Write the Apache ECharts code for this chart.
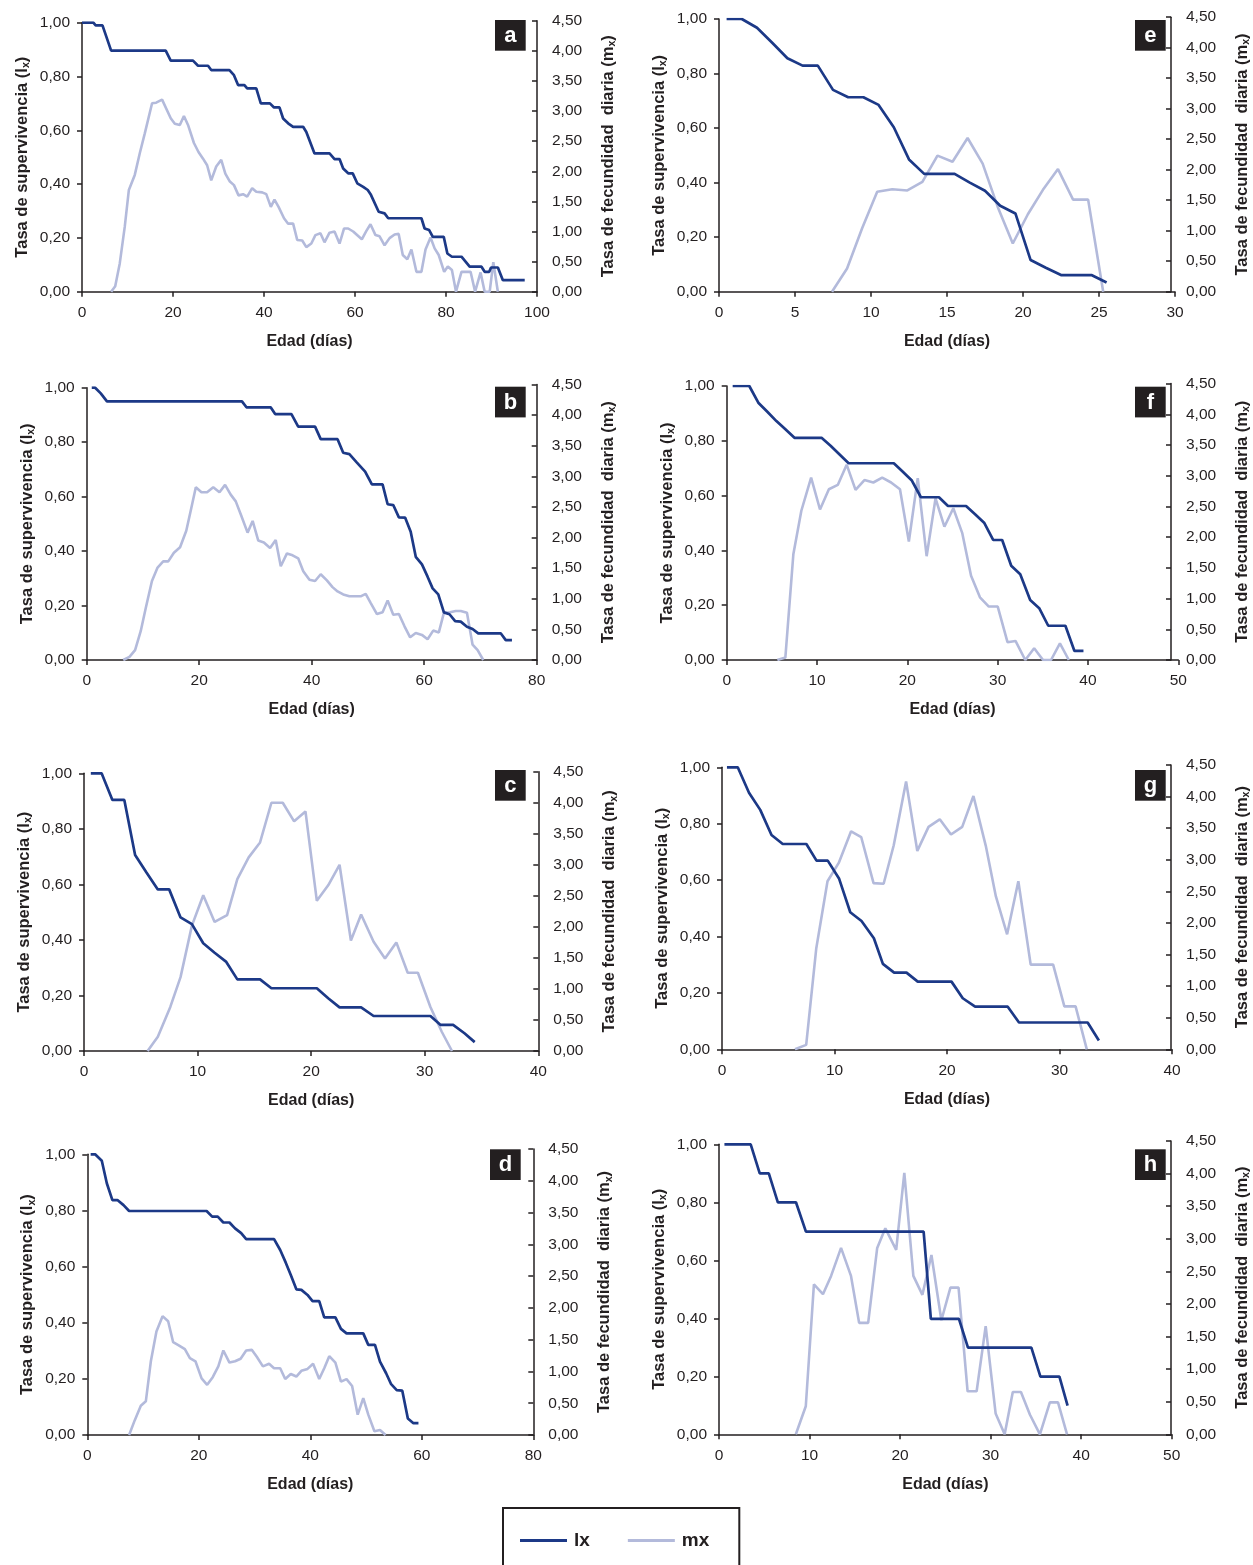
<!DOCTYPE html>
<html><head><meta charset="utf-8">
<script src="https://cdn.jsdelivr.net/npm/echarts@6/dist/echarts.min.js"></script>
<style>html,body{margin:0;padding:0;background:#fff}#c{width:1253px;height:1565px}</style>
</head><body><div id="c"></div>
<script>
// ---------- DATA (day, value) ----------
const lxA=[[0,1.0],[2.5,1.0],[3,0.99],[4.5,0.99],[6.4,0.896],[18.4,0.896],[19.5,0.859],[24.4,0.859],[25.5,0.84],[27.7,0.84],[28.4,0.824],[32.4,0.824],[33.4,0.805],[34.3,0.768],[35.7,0.768],[36.3,0.756],[38.3,0.756],[39.3,0.70],[41.3,0.70],[42.2,0.685],[43.4,0.685],[44.2,0.644],[45.3,0.626],[46.4,0.613],[48.6,0.613],[49.3,0.594],[51.1,0.514],[54.4,0.514],[55.5,0.493],[56.6,0.493],[57.4,0.458],[58.5,0.44],[59.5,0.44],[60.5,0.403],[61.8,0.39],[62.8,0.378],[63.5,0.36],[65.2,0.297],[66.5,0.291],[67.3,0.273],[74.6,0.273],[75.3,0.235],[76.3,0.229],[77.1,0.204],[79.5,0.204],[80.3,0.142],[81.3,0.13],[83.4,0.13],[85.2,0.093],[87.8,0.093],[88.5,0.074],[89.5,0.074],[89.9,0.09],[91.4,0.09],[92.5,0.043],[97.3,0.043]];
const mxA=[[6.4,0],[7.3,0.09],[8.3,0.47],[9.4,1.08],[10.3,1.69],[11.6,1.94],[12.7,2.30],[13.8,2.63],[15.4,3.13],[16.3,3.14],[17.6,3.19],[19.5,2.88],[20.4,2.79],[21.5,2.77],[22.4,2.92],[23.3,2.77],[24.6,2.47],[25.6,2.32],[26.6,2.21],[27.5,2.10],[28.4,1.85],[29.5,2.08],[30.6,2.19],[31.5,1.96],[32.5,1.83],[33.4,1.77],[34.4,1.60],[35.4,1.62],[36.3,1.58],[37.4,1.72],[38.3,1.66],[39.6,1.65],[40.5,1.62],[41.5,1.41],[42.3,1.53],[43.2,1.41],[44.4,1.22],[45.3,1.13],[46.4,1.13],[47.3,0.86],[48.4,0.85],[49.3,0.74],[50.4,0.80],[51.3,0.94],[52.4,0.97],[53.3,0.82],[54.4,0.98],[55.5,1.00],[56.6,0.80],[57.6,1.05],[58.5,1.05],[59.6,1.00],[61.5,0.87],[62.5,1.01],[63.4,1.12],[64.5,0.94],[65.4,0.92],[66.5,0.77],[67.6,0.89],[68.7,0.95],[69.6,0.96],[70.5,0.61],[71.5,0.54],[72.4,0.70],[73.5,0.33],[74.6,0.33],[75.5,0.70],[76.6,0.90],[77.5,0.72],[78.4,0.61],[79.6,0.33],[80.4,0.42],[81.3,0.36],[82.2,0],[83.4,0.33],[85.4,0.33],[86.4,0],[87.6,0.32],[88.5,0],[89.6,0],[90.4,0.49],[91.4,0]];

const lxE=[[0.5,1.0],[1.5,1.0],[2.5,0.968],[3.5,0.913],[4.5,0.856],[5.5,0.829],[6.5,0.829],[7.5,0.74],[8.5,0.713],[9.5,0.713],[10.5,0.685],[11.5,0.603],[12.5,0.485],[13.5,0.432],[14.5,0.432],[15.5,0.432],[16.5,0.40],[17.5,0.37],[18.5,0.315],[19.5,0.287],[20.5,0.116],[21.5,0.088],[22.5,0.061],[23.5,0.061],[24.5,0.061],[25.5,0.034]];
const mxE=[[7.5,0],[8.5,0.38],[9.5,1.04],[10.5,1.64],[11.5,1.68],[12.5,1.66],[13.5,1.80],[14.5,2.23],[15.5,2.13],[16.5,2.52],[17.5,2.10],[18.5,1.39],[19.5,0.79],[20.5,1.27],[21.5,1.67],[22.5,2.01],[23.5,1.51],[24.5,1.51],[25.5,0]];

const lxB=[[0.9,1.0],[1.5,1.0],[2.5,0.979],[3.6,0.95],[27.6,0.95],[28.4,0.928],[32.7,0.928],[33.5,0.903],[36.4,0.903],[37.6,0.857],[40.6,0.857],[41.6,0.811],[44.6,0.811],[45.6,0.761],[46.7,0.756],[48,0.726],[49.5,0.692],[50.7,0.645],[52.6,0.645],[53.5,0.572],[54.5,0.569],[55.5,0.524],[56.6,0.523],[57.6,0.471],[58.5,0.379],[59.6,0.351],[60.6,0.306],[61.5,0.263],[62.5,0.241],[63.5,0.175],[64.5,0.168],[65.5,0.143],[66.5,0.141],[67.6,0.122],[68.6,0.114],[69.6,0.098],[73.6,0.098],[74.5,0.073],[75.6,0.073]];
const mxB=[[6.5,0],[7.6,0.05],[8.6,0.16],[9.6,0.47],[10.5,0.85],[11.6,1.29],[12.6,1.51],[13.6,1.61],[14.5,1.61],[15.5,1.75],[16.6,1.84],[17.7,2.11],[18.5,2.44],[19.4,2.82],[20.4,2.74],[21.4,2.74],[22.5,2.82],[23.6,2.74],[24.6,2.86],[25.6,2.70],[26.5,2.59],[27.5,2.35],[28.6,2.08],[29.5,2.27],[30.5,1.95],[31.5,1.92],[32.6,1.83],[33.6,1.96],[34.5,1.53],[35.6,1.74],[36.6,1.71],[37.6,1.66],[38.5,1.45],[39.6,1.31],[40.6,1.29],[41.6,1.40],[42.7,1.30],[43.7,1.19],[44.6,1.12],[45.6,1.07],[46.7,1.04],[47.7,1.04],[48.7,1.04],[49.6,1.08],[50.5,0.93],[51.6,0.75],[52.6,0.78],[53.5,0.97],[54.5,0.74],[55.5,0.75],[56.5,0.55],[57.5,0.37],[58.5,0.44],[59.6,0.41],[60.6,0.34],[61.6,0.48],[62.6,0.45],[63.5,0.77],[64.6,0.78],[65.6,0.80],[66.5,0.80],[67.6,0.77],[68.6,0.25],[69.5,0.16],[70.5,0]];

const lxF=[[0.66,1.0],[2.5,1.0],[3.5,0.939],[4.5,0.906],[5.5,0.872],[6.5,0.842],[7.5,0.811],[10.5,0.811],[11.5,0.782],[12.5,0.75],[13.5,0.718],[18.5,0.718],[19.5,0.687],[20.5,0.655],[21.5,0.594],[23.5,0.594],[24.5,0.562],[26.5,0.562],[27.5,0.532],[28.5,0.501],[29.5,0.438],[30.5,0.438],[31.5,0.344],[32.5,0.313],[33.6,0.219],[34.6,0.189],[35.6,0.125],[37.5,0.125],[38.5,0.033],[39.5,0.033]];
const mxF=[[5.7,0],[6.6,0.04],[7.5,1.72],[8.4,2.43],[9.5,2.97],[10.5,2.45],[11.5,2.78],[12.5,2.85],[13.5,3.18],[14.5,2.77],[15.5,2.93],[16.5,2.89],[17.5,2.97],[18.5,2.89],[19.5,2.78],[20.5,1.93],[21.5,2.96],[22.5,1.69],[23.5,2.63],[24.5,2.17],[25.5,2.47],[26.5,2.07],[27.5,1.37],[28.5,1.02],[29.5,0.87],[30.5,0.87],[31.6,0.29],[32.5,0.31],[33.6,0],[34.6,0.19],[35.6,0],[36.5,0],[37.5,0.27],[38.5,0]];

const lxC=[[0.6,1.0],[1.55,1.0],[2.5,0.904],[3.55,0.904],[4.5,0.706],[5.5,0.643],[6.5,0.582],[7.5,0.582],[8.5,0.481],[9.5,0.457],[10.5,0.388],[11.5,0.354],[12.5,0.322],[13.5,0.258],[15.5,0.258],[16.5,0.226],[20.5,0.226],[21.5,0.19],[22.5,0.157],[24.4,0.157],[25.5,0.126],[30.5,0.126],[31.4,0.094],[32.5,0.094],[33.5,0.064],[34.4,0.032]];
const mxC=[[5.6,0],[6.5,0.23],[7.6,0.71],[8.5,1.19],[9.5,2.02],[10.5,2.51],[11.5,2.08],[12.6,2.19],[13.5,2.77],[14.5,3.12],[15.5,3.36],[16.5,4.0],[17.5,4.0],[18.5,3.70],[19.5,3.86],[20.5,2.42],[21.5,2.67],[22.5,3.0],[23.5,1.78],[24.4,2.20],[25.5,1.76],[26.5,1.49],[27.5,1.75],[28.5,1.26],[29.4,1.26],[30.5,0.71],[31.5,0.31],[32.4,0]];

const lxG=[[0.44,1.0],[1.4,1.0],[2.4,0.91],[3.4,0.849],[4.4,0.76],[5.4,0.728],[7.5,0.728],[8.4,0.669],[9.4,0.669],[10.4,0.606],[11.4,0.486],[12.4,0.455],[13.5,0.394],[14.3,0.303],[15.3,0.272],[16.4,0.272],[17.4,0.24],[20.4,0.24],[21.4,0.181],[22.5,0.151],[25.4,0.151],[26.4,0.095],[32.5,0.095],[33.5,0.031]];
const mxG=[[6.5,0],[7.5,0.07],[8.4,1.60],[9.4,2.66],[10.4,2.95],[11.5,3.45],[12.4,3.36],[13.5,2.63],[14.4,2.62],[15.3,3.23],[16.4,4.24],[17.4,3.14],[18.4,3.52],[19.4,3.64],[20.4,3.40],[21.4,3.52],[22.4,4.01],[23.5,3.22],[24.4,2.42],[25.4,1.82],[26.4,2.66],[27.5,1.34],[28.4,1.34],[29.5,1.34],[30.5,0.68],[31.5,0.68],[32.5,0]];

const lxD=[[0.6,1.0],[1.4,1.0],[2.6,0.977],[3.5,0.897],[4.5,0.837],[5.4,0.837],[6.5,0.819],[7.5,0.798],[21.4,0.798],[22.4,0.778],[23.4,0.778],[24.4,0.757],[25.5,0.757],[26.5,0.736],[27.6,0.719],[28.5,0.698],[33.5,0.698],[34.6,0.659],[35.6,0.614],[36.5,0.57],[37.5,0.519],[38.4,0.517],[39.5,0.499],[40.4,0.477],[41.6,0.477],[42.5,0.419],[44.5,0.419],[45.5,0.378],[46.5,0.362],[49.5,0.362],[50.4,0.321],[51.6,0.321],[52.5,0.261],[53.6,0.22],[54.5,0.181],[55.5,0.16],[56.5,0.158],[57.5,0.059],[58.5,0.042],[59.4,0.042]];
const mxD=[[7.5,0],[8.5,0.23],[9.6,0.46],[10.5,0.53],[11.4,1.16],[12.4,1.63],[13.5,1.87],[14.5,1.79],[15.4,1.46],[16.4,1.41],[17.5,1.35],[18.4,1.21],[19.4,1.16],[20.5,0.89],[21.5,0.79],[22.5,0.91],[23.5,1.08],[24.4,1.33],[25.5,1.14],[26.5,1.16],[27.5,1.20],[28.5,1.33],[29.5,1.34],[30.4,1.23],[31.5,1.08],[32.6,1.12],[33.5,1.05],[34.6,1.05],[35.5,0.88],[36.5,0.96],[37.5,0.92],[38.4,1.01],[39.5,1.04],[40.5,1.12],[41.6,0.88],[42.5,1.05],[43.4,1.24],[44.5,1.14],[45.5,0.84],[46.5,0.88],[47.5,0.77],[48.5,0.32],[49.5,0.58],[50.4,0.32],[51.5,0.06],[52.5,0.08],[53.5,0]];

const lxH=[[0.6,1.0],[3.5,1.0],[4.5,0.9],[5.5,0.9],[6.5,0.8],[8.5,0.8],[9.6,0.699],[22.6,0.699],[23.4,0.398],[26.5,0.398],[27.5,0.299],[34.5,0.299],[35.5,0.199],[37.6,0.199],[38.5,0.099]];
const mxH=[[8.5,0],[9.6,0.43],[10.5,2.30],[11.5,2.15],[12.4,2.43],[13.5,2.86],[14.6,2.43],[15.5,1.71],[16.5,1.71],[17.5,2.86],[18.4,3.16],[19.6,2.83],[20.5,4.01],[21.5,2.43],[22.5,2.14],[23.5,2.75],[24.6,1.75],[25.6,2.25],[26.5,2.25],[27.5,0.66],[28.5,0.66],[29.5,1.66],[30.6,0.32],[31.6,0],[32.5,0.65],[33.4,0.65],[34.4,0.30],[35.5,0],[36.6,0.49],[37.5,0.49],[38.5,0]];

const panelLetters=['a','e','b','f','c','g','d','h'];
const panelLx=[lxA,lxE,lxB,lxF,lxC,lxG,lxD,lxH];
const panelMx=[mxA,mxE,mxB,mxF,mxC,mxG,mxD,mxH];
const xMaxes=[100,30,80,50,40,40,80,50];
const xIntervals=[20,5,20,10,10,10,20,10];
const lxTicks={min:0,max:1,interval:0.2};
const mxTicks={min:0,max:4.5,interval:0.5};
const xName='Edad (días)';
const lxName='Tasa de supervivencia (l{s|x})';
const mxName='Tasa de fecundidad  diaria (m{s|x})';

// ---------- LAYOUT (pixels) ----------
const layout=[
 {x0:82,  x1:537,   top:22.7,  bottom:291.7, topR:20.8,  badge:[495,20]},
 {x0:719, x1:1175,  top:19,    bottom:291.7, topR:17.2,  badge:[1135,20]},
 {x0:86.7,x1:536.7, top:387.7, bottom:660,   topR:384.4, badge:[495,386.7]},
 {x0:726.7,x1:1178.3,top:386,  bottom:660,   topR:383.6, badge:[1135,386.7]},
 {x0:84,  x1:538.3, top:773.3, bottom:1051,  topR:771.7, badge:[495,770]},
 {x0:722, x1:1172,  top:767.3, bottom:1049.3,topR:765,   badge:[1135,770]},
 {x0:87.3,x1:533.3, top:1154.3,bottom:1435,  topR:1149,  badge:[490,1149.3]},
 {x0:719, x1:1171.7,top:1144.3,bottom:1434.3,topR:1141,  badge:[1135,1149.3]}
];
const LX_COLOR='#1c3987', MX_COLOR='#b3badb', AX='#231f20', TXT='#231f20';
const FONT='"Liberation Sans", Arial, sans-serif';
const fmt2=v=>v.toFixed(2).replace('.',',');

const grids=[],xAxes=[],yAxes=[],series=[],graphics=[];
const mkNameStyle=()=>({fontFamily:FONT,fontWeight:'bold',fontSize:16.5,color:TXT,
  rich:{s:{fontFamily:FONT,fontWeight:'bold',fontSize:10.5,color:TXT,padding:[8,0,0,0]}}});
const TICKFONT=15.5;
layout.forEach((L,i)=>{
  const w=L.x1-L.x0;
  grids.push({left:L.x0,top:L.top,width:w,height:L.bottom-L.top});
  grids.push({left:L.x0,top:L.topR,width:w,height:L.bottom-L.topR});
  xAxes.push({type:'value',gridIndex:2*i,min:0,max:xMaxes[i],interval:xIntervals[i],
    name:xName,nameLocation:'middle',nameGap:42,
    nameTextStyle:{fontFamily:FONT,fontWeight:'bold',fontSize:16,color:TXT},
    axisLine:{show:true,onZero:false,lineStyle:{color:AX,width:1.5}},
    axisTick:{show:true,length:5,lineStyle:{color:AX,width:1.5}},
    axisLabel:{fontFamily:FONT,fontSize:TICKFONT,color:TXT,margin:13},
    splitLine:{show:false}});
  xAxes.push({type:'value',gridIndex:2*i+1,min:0,max:xMaxes[i],show:false,
    axisLine:{onZero:false}});
  yAxes.push({type:'value',gridIndex:2*i,position:'left',...lxTicks,
    name:lxName,nameLocation:'middle',nameGap:50,
    nameTextStyle:mkNameStyle(),
    axisLine:{show:true,onZero:false,lineStyle:{color:AX,width:1.5}},
    axisTick:{show:true,length:5,lineStyle:{color:AX,width:1.5}},
    axisLabel:{fontFamily:FONT,fontSize:TICKFONT,color:TXT,margin:12,formatter:fmt2},
    splitLine:{show:false}});
  yAxes.push({type:'value',gridIndex:2*i+1,position:'right',...mxTicks,
    name:mxName,nameLocation:'middle',nameGap:62,nameRotate:90,
    nameTextStyle:mkNameStyle(),
    axisLine:{show:true,onZero:false,lineStyle:{color:AX,width:1.5}},
    axisTick:{show:true,inside:true,length:5,lineStyle:{color:AX,width:1.5}},
    axisLabel:{fontFamily:FONT,fontSize:TICKFONT,color:TXT,margin:15,formatter:fmt2},
    splitLine:{show:false}});
  series.push({type:'line',name:'mx',xAxisIndex:2*i+1,yAxisIndex:2*i+1,data:panelMx[i],
    symbol:'none',z:2,lineStyle:{color:MX_COLOR,width:2.6},itemStyle:{color:MX_COLOR},animation:false});
  series.push({type:'line',name:'lx',xAxisIndex:2*i,yAxisIndex:2*i,data:panelLx[i],
    symbol:'none',z:3,lineStyle:{color:LX_COLOR,width:2.7},itemStyle:{color:LX_COLOR},animation:false});
  graphics.push({type:'group',left:L.badge[0],top:L.badge[1],children:[
    {type:'rect',shape:{x:0,y:0,width:30.7,height:30.7},style:{fill:'#231f20'}},
    {type:'text',x:15.35,y:16,style:{text:panelLetters[i],fill:'#fff',font:'bold 22px '+FONT,align:'center',verticalAlign:'middle'}}
  ]});
});

const chart=echarts.init(document.getElementById('c'),null,{renderer:'canvas'});
chart.setOption({
  animation:false,
  grid:grids,xAxis:xAxes,yAxis:yAxes,series:series,graphic:graphics,
  legend:{data:[{name:'lx',icon:'rect'},{name:'mx',icon:'rect'}],left:503,top:1508,orient:'horizontal',
    itemWidth:47,itemHeight:3,itemGap:38,
    padding:[23,30,40,17],borderColor:AX,borderWidth:2,
    textStyle:{fontFamily:FONT,fontWeight:'bold',fontSize:19,color:TXT,padding:[0,0,0,2]}}
});
</script></body></html>
